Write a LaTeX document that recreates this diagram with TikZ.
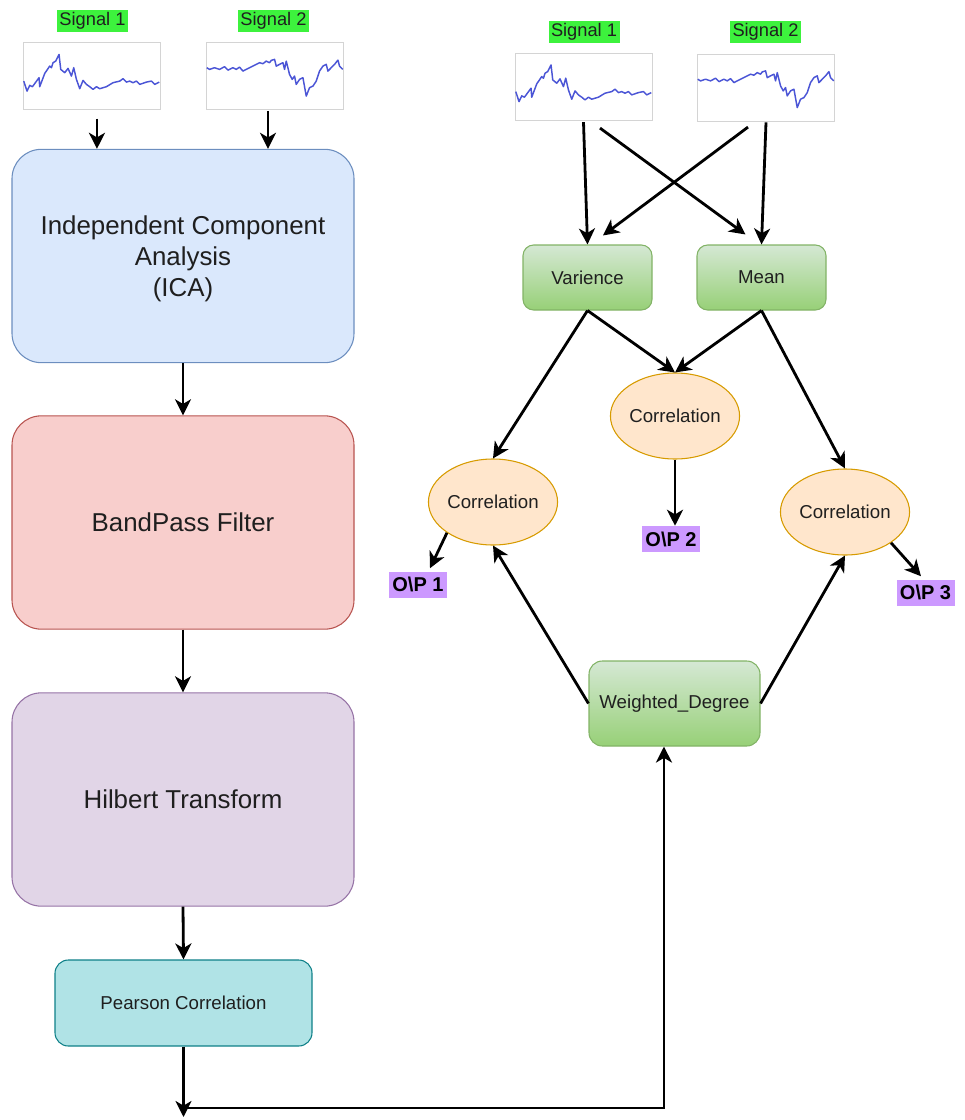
\documentclass[tikz,border=0pt]{standalone}
\usepackage{fontspec}
\setmainfont{Liberation Sans}
\usetikzlibrary{arrows.meta,shapes.geometric,calc}
\definecolor{icaF}{HTML}{DAE8FC}\definecolor{icaD}{HTML}{6C8EBF}
\definecolor{bpF}{HTML}{F8CECC}\definecolor{bpD}{HTML}{B85450}
\definecolor{htF}{HTML}{E1D5E7}\definecolor{htD}{HTML}{9673A6}
\definecolor{pcF}{HTML}{B0E3E6}\definecolor{pcD}{HTML}{0E8088}
\definecolor{gTop}{HTML}{D5E8D4}\definecolor{gBot}{HTML}{97D077}\definecolor{gD}{HTML}{82B366}
\definecolor{elF}{HTML}{FFE6CC}\definecolor{elD}{HTML}{D79B00}
\definecolor{sigG}{HTML}{3DF23D}
\definecolor{opF}{HTML}{CC99FF}
\definecolor{txt}{HTML}{1F1F1F}
\definecolor{sigB}{HTML}{4B55D6}
\definecolor{imgD}{HTML}{D4D4D4}
\tikzset{
  bigbox/.style={rectangle, rounded corners=22pt, minimum width=256.5pt, minimum height=160pt, inner sep=0pt, align=center, text=txt, font=\fontsize{19.4}{23.4}\selectfont, line width=0.8pt},
  grnbox/.style={rectangle, rounded corners=8pt, top color=gTop, bottom color=gBot, draw=gD, line width=0.8pt, minimum width=96.75pt, minimum height=48.75pt, inner sep=0pt, text=txt, font=\fontsize{14}{17}\selectfont},
  corrnode/.style={ellipse, fill=elF, draw=elD, line width=0.8pt, minimum width=96.75pt, minimum height=64.5pt, inner sep=0pt, text=txt, font=\fontsize{14}{17}\selectfont},
  siglab/.style={rectangle, fill=sigG, minimum width=53.25pt, minimum height=16.5pt, inner sep=0pt, text=txt, font=\fontsize{13.7}{16}\selectfont},
  oplab/.style={rectangle, fill=opF, minimum width=43.5pt, minimum height=19.5pt, inner sep=0pt, text=black, font=\fontsize{15}{18}\selectfont\bfseries},
  imgbox/.style={rectangle, draw=imgD, line width=0.4pt, fill=white, minimum width=102.75pt, minimum height=50pt, inner sep=0pt},
  arr/.style={line width=2.1pt, -{Stealth[length=12pt,width=12pt,inset=3.5pt]}},
  sigline/.style={sigB, line width=1.1pt, line join=round},
  sigone/.pic={\draw[sigline] plot coordinates {(1,38.7) (4.3,48.7) (7,43) (9.7,44.3) (16.3,35.3) (17,44.3) (22,31) (27,23.7) (28.7,25.3) (30.3,20.3) (33,18.7) (36.3,12) (38,27) (42,30.3) (45.3,26) (48.7,33.7) (51,25.3) (53.7,37) (57,46.3) (60.3,38) (63.7,42) (67,44.3) (70.3,47) (73.7,44.3) (77,46.3) (83.7,44.3) (90.3,40.3) (97,38.7) (100.3,36.3) (103.7,39.7) (107,38.7) (110.3,40.3) (113.7,38.7) (117,42) (123.7,39.7) (128.7,38.7) (132,42) (136.5,39.7)};},
  sigtwo/.pic={\draw[sigline] plot coordinates {(0.5,25.3) (3.3,27) (8.3,25.3) (13.3,27) (18.3,24.3) (21.7,27.7) (26.7,25.3) (30,27) (33.3,24.7) (36.7,28.7) (43.3,25.3) (50,22) (53.3,20.3) (56.7,21.3) (60,18.7) (63.3,20.3) (65,18) (68.3,17) (70,23.7) (73.3,22) (76.7,20.3) (78.3,27) (80,18.7) (83.3,32) (86,37) (88.3,33.7) (90,42) (93.3,37) (96.7,35.3) (100,53.7) (103.3,45.3) (106.7,43.7) (110,38.7) (113.3,28.7) (116.7,23.7) (120,22) (121.7,28.7) (125,25.3) (128.3,22) (131.7,17.7) (133.3,23.7) (136.5,27)};}
}
\begin{document}
\begin{tikzpicture}[x=0.75pt,y=-0.75pt]
\useasboundingbox (0,0) rectangle (964,1120);
% ---------- left column ----------
\node[siglab] (lsl1) at (92.5,21) {Signal 1};
\node[siglab] (lsl2) at (273.5,21) {Signal 2};
\node[imgbox] (la) at (91.5,76) {};
\node[imgbox] (lb) at (275,76) {};
\pic at (la.north west) {sigone};
\pic at (lb.north west) {sigtwo};
\node[bigbox, fill=icaF, draw=icaD] (ica) at (183,256) {};
\node[align=center, text=txt, font=\fontsize{19.4}{23.4}\selectfont, inner sep=0pt] (icat) at (183,259) {Independent Component\\Analysis\\(ICA)};
\node[bigbox, fill=bpF, draw=bpD] (bp) at (183,522.5) {BandPass Filter};
\node[bigbox, fill=htF, draw=htD] (ht) at (183,799.5) {Hilbert Transform};
\node[rectangle, rounded corners=10pt, fill=pcF, draw=pcD, line width=0.8pt, minimum width=192.75pt, minimum height=64.5pt, inner sep=0pt, text=txt, font=\fontsize{14}{17}\selectfont] (pc) at (183.5,1003) {Pearson Correlation};
\draw[arr] ([xshift=4.1pt,yshift=-6.75pt]la.south) -- ([xshift=4.1pt]la.south |- ica.north);
\draw[arr] ([xshift=-5.25pt,yshift=-1pt]lb.south) -- ([xshift=-5.25pt]lb.south |- ica.north);
\draw[arr] (ica.south) -- (bp.north);
\draw[arr] (bp.south) -- (ht.north);
\draw[arr] (ht.south) -- (pc.north);
\coordinate (pcend) at (183.5,1117);
\coordinate (bend) at (183.5,1108);
\draw[arr] (pc.south) -- (pcend);
% ---------- right part ----------
\node[siglab] (rsl1) at (584,32) {Signal 1};
\node[siglab] (rsl2) at (765.5,32) {Signal 2};
\node[imgbox] (ra) at (583.5,86.5) {};
\node[imgbox] (rb) at (766,87.5) {};
\pic at (ra.north west) {sigone};
\pic at (rb.north west) {sigtwo};
\node[grnbox] (var) at (587.5,277.5) {Varience};
\node[grnbox] (mean) at (761.5,277.5) {Mean};
\node[corrnode] (cm) at (675,416) {Correlation};
\node[corrnode] (cl) at (493,502) {Correlation};
\node[corrnode] (cr) at (845,512) {Correlation};
\node[grnbox, minimum width=128.25pt, minimum height=63.75pt, rounded corners=10pt] (wd) at (674.5,703.5) {Weighted\_Degree};
\node[oplab] (op1) at (418,584.5) {O\textbackslash P 1};
\node[oplab] (op2) at (671,539) {O\textbackslash P 2};
\node[oplab] (op3) at (925.5,592.5) {O\textbackslash P 3};
\draw[arr] ([yshift=-1.5pt]ra.south) -- (var.north);
\draw[arr] ([xshift=12.4pt,yshift=-6pt]ra.south) -- ([xshift=-12pt,yshift=7.5pt]mean.north);
\draw[arr] ([yshift=-1pt]rb.south) -- (mean.north);
\draw[arr] ([xshift=-13.5pt,yshift=-4.5pt]rb.south) -- ([xshift=11.6pt,yshift=6.75pt]var.north);
\draw[arr] (var.south) -- (cm.north);
\draw[arr] (mean.south) -- (cm.north);
\draw[arr] (var.south) -- (cl.north);
\draw[arr] (mean.south) -- (cr.north);
\draw[arr] (cm.south) -- (cm.south |- op2.north);
\draw[arr] (cl.south west) -- ([xshift=9pt,yshift=2.25pt]op1.north);
\draw[arr] (cr.south east) -- ([xshift=-3.4pt,yshift=2.25pt]op3.north);
\draw[arr] (wd.west) -- (cl.south);
\draw[arr] (wd.east) -- (cr.south);
\draw[arr] (bend) -| ([xshift=-7.9pt]wd.south);
\end{tikzpicture}
\end{document}
